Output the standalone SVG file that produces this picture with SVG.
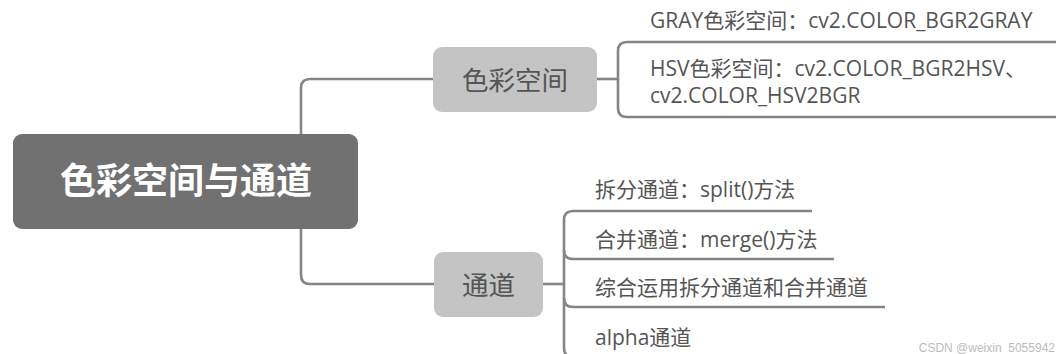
<svg xmlns="http://www.w3.org/2000/svg" width="1056" height="354" viewBox="0 0 1056 354">
<style>
.ln{fill:none;stroke:#858585;stroke-width:2.6;stroke-linecap:butt}
.t{font-family:"Open Sans","Noto Sans CJK SC",sans-serif;fill:#555}
.leaf{font-size:21px}
.mid{font-size:26.5px;text-anchor:middle}
.root{font-family:"Noto Sans CJK SC",sans-serif;font-weight:bold;font-size:36px;fill:#fff;text-anchor:middle}
</style>
<rect width="1056" height="354" fill="#fff"/>
<g id="connectors">
<path class="ln" d="M434,79 H310 Q301,79 301,88 V275 Q301,284 310,284 H435"/>
<path class="ln" d="M597,79 H618"/>
<path class="ln" d="M1056,42 H627 Q618,42 618,51 V108 Q618,117 627,117 H1056"/>
<path class="ln" d="M543,284 H564"/>
<path class="ln" d="M812,211 H573 Q564,211 564,220 V348 Q564,357 573,357 H720"/>
<path class="ln" d="M564,250 Q564,259 573,259 H834"/>
<path class="ln" d="M564,298 Q564,307 573,307 H885"/>
</g>
<g id="root">
<rect x="13" y="134" width="345" height="95" rx="9" fill="#717171"/>
<text class="root" x="186" y="194">色彩空间与通道</text>
</g>
<g id="colorspace">
<rect x="433" y="47" width="164" height="65" rx="9" fill="#c4c4c4"/>
<text class="t mid" x="515" y="90">色彩空间</text>
</g>
<g id="channel">
<rect x="434" y="252" width="109" height="65" rx="9" fill="#c4c4c4"/>
<text class="t mid" x="488.5" y="295">通道</text>
</g>
<g id="gray">
<text class="t leaf" x="650" y="28">GRAY色彩空间：cv2.COLOR_BGR2GRAY</text>
</g>
<g id="hsv">
<text class="t leaf" x="650" y="76">HSV色彩空间：cv2.COLOR_BGR2HSV、</text>
<text class="t leaf" x="650" y="103">cv2.COLOR_HSV2BGR</text>
</g>
<g id="split">
<text class="t leaf" x="595" y="197">拆分通道：split()方法</text>
</g>
<g id="merge">
<text class="t leaf" x="595" y="247">合并通道：merge()方法</text>
</g>
<g id="combine">
<text class="t leaf" x="595" y="295">综合运用拆分通道和合并通道</text>
</g>
<g id="alpha">
<text class="t leaf" x="595" y="345">alpha通道</text>
</g>
<text x="1055" y="352" font-family="Liberation Sans, sans-serif" font-size="12" fill="#bbb" text-anchor="end">CSDN @weixin_5055942</text>
</svg>
